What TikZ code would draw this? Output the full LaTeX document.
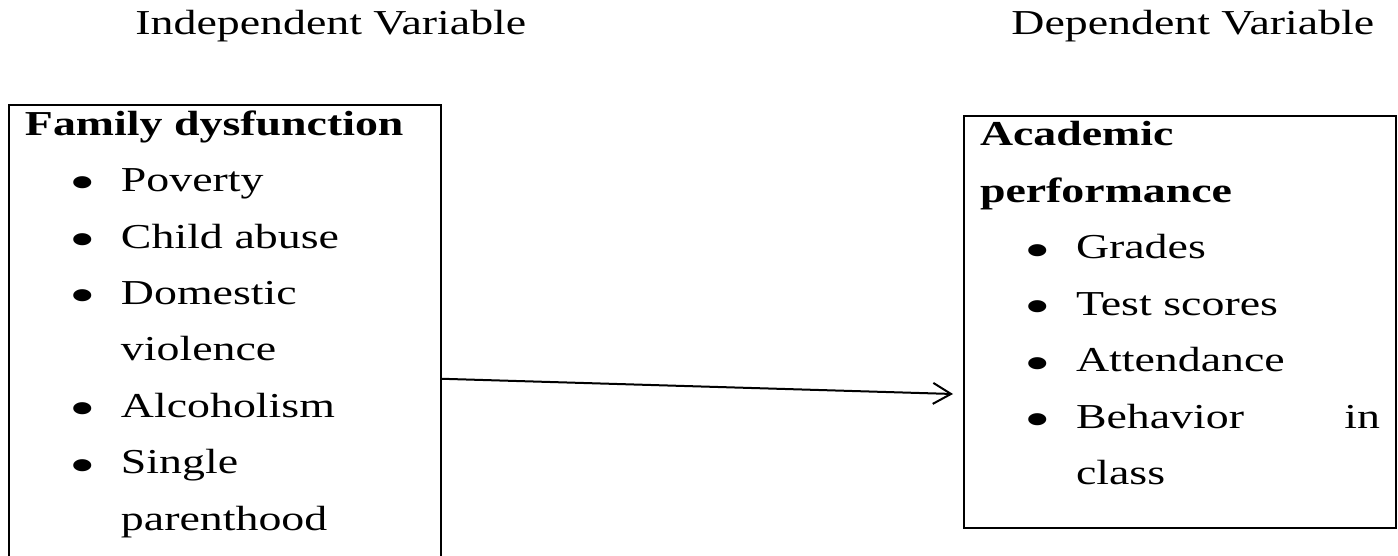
\documentclass[tikz,border=0pt]{standalone}
\usepackage{fontspec}
\setmainfont{Liberation Serif}[FakeStretch=1.31]
\usetikzlibrary{positioning,arrows.meta}
\setlength{\parindent}{0pt}
% one bullet line, later lines hang under the text
\newcommand{\vbullet}{\raisebox{-4.2pt}{\scalebox{1.65}[1.45]{\textbullet}}}
\newcommand{\vitem}[1]{\par\hangindent=48pt\hangafter=1\hspace*{28.75pt}\makebox[0pt][c]{\vbullet}\hspace*{19.25pt}#1}
\newcommand{\vstrut}[2]{\vrule width 0pt height #1 depth #2}
\newcommand{\vfont}{\fontsize{17.5pt}{28.25pt}\selectfont}
\tikzset{
    head/.style={
        anchor=base west,
        inner sep=0pt,
        font=\vfont
    },
    varbox/.style={
        draw,
        line width=1.35pt,
        anchor=north west,
        outer sep=0pt,
        text width=200pt,
        inner xsep=8pt,
        inner ysep=0pt,
        align=left,
        font=\vfont
    },
    arr/.style={-{Straight Barb[length=9pt,width=10.5pt]},line width=1pt}
}
\begin{document}
\begin{tikzpicture}[x=0.5pt,y=-0.5pt]
\useasboundingbox (0,0) rectangle (1398,556);

\node[head] (indep) at (135,35) {Independent Variable};
\node[head] (dep) at (1011,35) {Dependent Variable};

\node[varbox] (fam) at (9,105) {\vstrut{15pt}{0pt}\textbf{Family dysfunction}
    \vitem{Poverty}
    \vitem{Child abuse}
    \vitem{Domestic\newline violence}
    \vitem{Alcoholism}
    \vitem{Single\newline parenthood\vstrut{0pt}{61pt}}\par};

\node[varbox] (acad) at (964,116) {\vstrut{15pt}{0pt}\textbf{Academic\newline performance}
    \vitem{Grades}
    \vitem{Test scores}
    \vitem{Attendance}
    \vitem{Behavior\hfill in\newline class\vstrut{0pt}{21.5pt}}\par};

\coordinate (tip) at (953,394);
\draw[arr] (fam.east) -- (tip);
\end{tikzpicture}
\end{document}
